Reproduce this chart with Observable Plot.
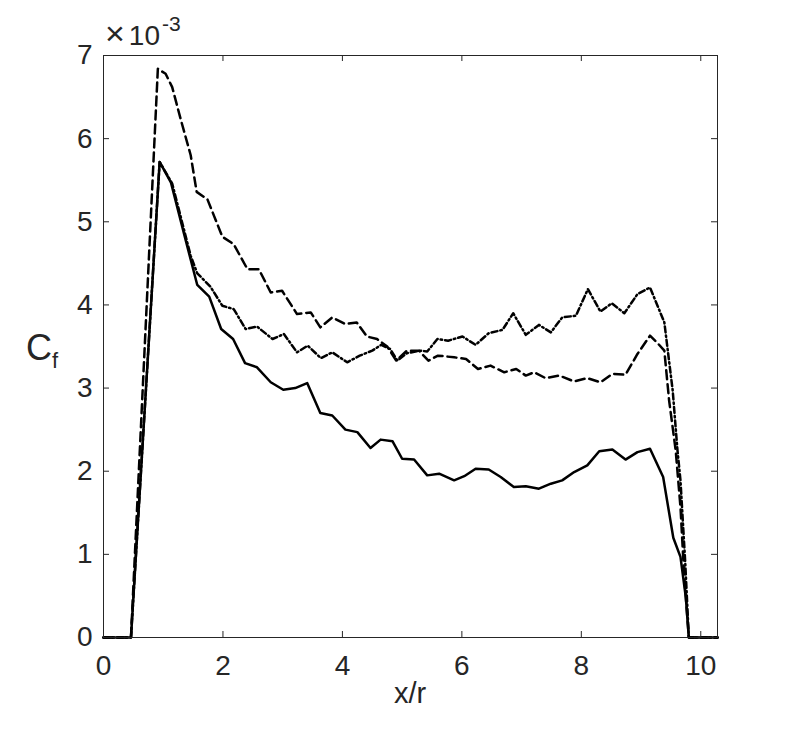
<!DOCTYPE html>
<html><head><meta charset="utf-8">
<script src="https://cdn.jsdelivr.net/npm/d3@7"></script>
<script src="https://cdn.jsdelivr.net/npm/@observablehq/plot@0.6"></script>
<style>body{margin:0;background:#fff}#chart{width:793px;height:733px}</style>
</head><body><div id="chart"></div>
<script>
// Values in units of 1e-3
const xSolid = [0, 0.46, 0.94, 1.13, 1.35, 1.57, 1.77, 1.97, 2.17, 2.37, 2.57, 2.80, 3.01, 3.21, 3.41, 3.63, 3.83, 4.05, 4.25, 4.47, 4.64, 4.84, 5.00, 5.20, 5.42, 5.62, 5.87, 6.04, 6.23, 6.45, 6.65, 6.87, 7.07, 7.29, 7.49, 7.68, 7.88, 8.10, 8.30, 8.52, 8.74, 8.94, 9.15, 9.37, 9.54, 9.66, 9.75, 9.80, 10.28];
const ySolid = [0, 0, 5.72, 5.47, 4.85, 4.24, 4.10, 3.71, 3.59, 3.30, 3.25, 3.07, 2.98, 3.00, 3.06, 2.70, 2.67, 2.50, 2.47, 2.28, 2.38, 2.36, 2.15, 2.14, 1.95, 1.97, 1.89, 1.94, 2.03, 2.02, 1.93, 1.81, 1.82, 1.79, 1.85, 1.89, 1.99, 2.07, 2.24, 2.26, 2.14, 2.23, 2.27, 1.93, 1.20, 0.97, 0.48, 0, 0];

const xDashed = [0, 0.46, 0.91, 1.04, 1.15, 1.29, 1.46, 1.56, 1.74, 1.99, 2.18, 2.41, 2.60, 2.80, 2.99, 3.24, 3.47, 3.63, 3.83, 4.05, 4.24, 4.41, 4.58, 4.75, 4.90, 5.08, 5.28, 5.44, 5.60, 5.87, 6.07, 6.27, 6.48, 6.71, 6.91, 7.07, 7.21, 7.40, 7.63, 7.88, 8.10, 8.32, 8.52, 8.74, 8.94, 9.15, 9.29, 9.39, 9.47, 9.58, 9.66, 9.72, 9.80, 10.28];
const yDashed = [0, 0, 6.84, 6.78, 6.62, 6.24, 5.80, 5.36, 5.27, 4.82, 4.73, 4.43, 4.43, 4.15, 4.17, 3.89, 3.91, 3.73, 3.85, 3.77, 3.79, 3.62, 3.59, 3.50, 3.33, 3.45, 3.45, 3.33, 3.39, 3.37, 3.35, 3.23, 3.27, 3.19, 3.23, 3.15, 3.19, 3.12, 3.15, 3.08, 3.12, 3.07, 3.17, 3.16, 3.41, 3.63, 3.53, 3.45, 2.85, 2.25, 1.57, 0.77, 0, 0];

const xDashDot = [0, 0.46, 0.94, 1.15, 1.46, 1.57, 1.79, 1.99, 2.18, 2.38, 2.57, 2.83, 3.02, 3.24, 3.42, 3.64, 3.83, 4.08, 4.29, 4.50, 4.65, 4.80, 4.92, 5.08, 5.30, 5.42, 5.59, 5.77, 6.01, 6.23, 6.45, 6.68, 6.86, 7.07, 7.29, 7.49, 7.68, 7.91, 8.11, 8.32, 8.51, 8.72, 8.94, 9.15, 9.39, 9.53, 9.61, 9.66, 9.74, 9.80, 10.28];
const yDashDot = [0, 0, 5.72, 5.46, 4.59, 4.38, 4.22, 3.99, 3.95, 3.71, 3.74, 3.59, 3.65, 3.43, 3.51, 3.36, 3.43, 3.31, 3.39, 3.45, 3.52, 3.47, 3.33, 3.42, 3.45, 3.44, 3.59, 3.57, 3.62, 3.52, 3.66, 3.70, 3.90, 3.64, 3.76, 3.67, 3.85, 3.87, 4.19, 3.92, 4.02, 3.90, 4.13, 4.21, 3.79, 2.97, 2.25, 1.89, 0.90, 0, 0];

const xTicks = [0, 2, 4, 6, 8, 10];
const yTicks = [0, 1, 2, 3, 4, 5, 6, 7];

const toRows = (xs, ys) => xs.map((x, i) => ({x, y: ys[i]}));
const solid = toRows(xSolid, ySolid);
const dashed = toRows(xDashed, yDashed);
const dashdot = toRows(xDashDot, yDashDot);

const ink = "#262626";
const W = 793, H = 733, mL = 103, mR = 76, mT = 55, mB = 96;
const fw = W - mL - mR, fh = H - mT - mB;
const tk = 6;
const font = "Arial, 'Liberation Sans', sans-serif";

const chart = Plot.plot({
  width: W, height: H,
  marginLeft: mL, marginRight: mR, marginTop: mT, marginBottom: mB,
  x: {domain: [0, 10.28]},
  y: {domain: [0, 7]},
  style: {fontFamily: font, color: ink, background: "#fff"},
  marks: [
    Plot.line(dashed, {x: "x", y: "y", stroke: "#000", strokeWidth: 2.5, strokeDasharray: "9,5"}),
    Plot.line(dashdot, {x: "x", y: "y", stroke: "#000", strokeWidth: 2.5, strokeDasharray: "6,3,1.5,3"}),
    Plot.line(solid, {x: "x", y: "y", stroke: "#000", strokeWidth: 2.5}),
    Plot.tickX(xTicks, {x: d => d, stroke: ink, insetTop: fh - tk}),
    Plot.tickX(xTicks, {x: d => d, stroke: ink, insetBottom: fh - tk}),
    Plot.tickY(yTicks, {y: d => d, stroke: ink, insetRight: fw - tk}),
    Plot.tickY(yTicks, {y: d => d, stroke: ink, insetLeft: fw - tk}),
    Plot.axisX(xTicks, {anchor: "bottom", tickSize: 0, tickPadding: 18, fontSize: 28, label: null, fill: ink, tickFormat: d3.format("d")}),
    Plot.axisY(yTicks, {anchor: "left", tickSize: 0, tickPadding: 11, fontSize: 28, label: null, fill: ink, tickFormat: d3.format("d")}),
    Plot.frame({stroke: ink, strokeWidth: 1})
  ]
});
document.getElementById("chart").appendChild(chart);

const svg = d3.select(chart);
// x label
svg.append("text").attr("x", mL + fw / 2).attr("y", 703).attr("text-anchor", "middle")
  .attr("font-family", font).attr("font-size", 29).attr("fill", ink).text("x/r");
// y label C_f
const yl = svg.append("text").attr("x", 26).attr("y", 360).attr("text-anchor", "start")
  .attr("font-family", font).attr("font-size", 36).attr("fill", ink);
yl.append("tspan").text("C");
yl.append("tspan").attr("font-size", 22).attr("dy", 8).text("f");
// exponent
const ex = svg.append("text").attr("x", 105).attr("y", 45).attr("text-anchor", "start")
  .attr("font-family", font).attr("font-size", 28).attr("fill", ink);
ex.append("tspan").attr("font-size", 34).attr("font-weight", 300).text("\u00d7");
ex.append("tspan").attr("dx", 4).text("10");
ex.append("tspan").attr("font-size", 21).attr("dy", -14).attr("dx", 2).text("-3");
</script>
</body></html>
